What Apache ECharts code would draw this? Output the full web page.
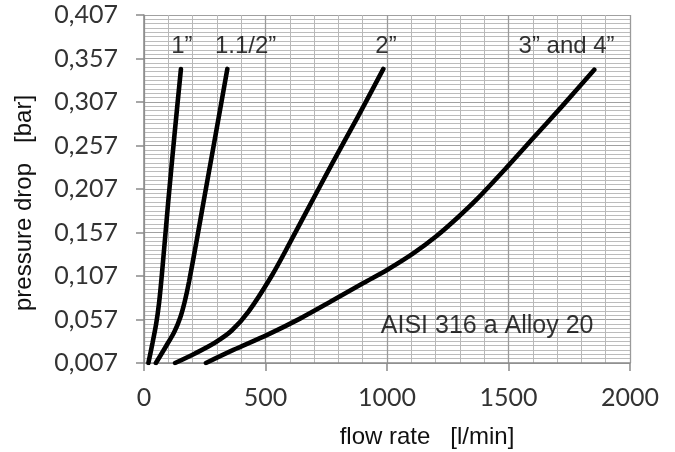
<!DOCTYPE html>
<html>
<head>
<meta charset="utf-8">
<script src="https://cdn.jsdelivr.net/npm/echarts@6/dist/echarts.min.js"></script>
<style>
html,body{margin:0;padding:0;background:#fff;}
#c{width:675px;height:452px;}
</style>
</head>
<body>
<div id="c"></div>
<script>
// flow rate [l/min] and pressure drop [bar] for each size
const flow1 = [18, 35, 50, 62, 74, 99, 125, 152];
const drop1 = [0.007, 0.030, 0.052, 0.076, 0.110, 0.190, 0.268, 0.345];

const flow15 = [49, 90, 125, 150, 168, 185, 215, 250, 290, 343];
const drop15 = [0.007, 0.026, 0.043, 0.060, 0.078, 0.100, 0.145, 0.200, 0.262, 0.345];

const flow2 = [128, 210, 290, 360, 430, 525, 600, 680, 772, 880, 985];
const drop2 = [0.007, 0.018, 0.030, 0.044, 0.066, 0.107, 0.145, 0.187, 0.235, 0.290, 0.345];

const flow34 = [255, 368, 505, 642, 765, 903, 1000, 1108, 1204, 1290, 1369, 1490, 1600, 1720, 1853];
const drop34 = [0.007, 0.022, 0.039, 0.058, 0.077, 0.099, 0.114, 0.133, 0.153, 0.174, 0.195, 0.231, 0.265, 0.302, 0.344];

const curveNames = ['1”', '1.1/2”', '2”', '3” and 4”'];
const labelFlow = [156, 418, 996, 1739];
const labelDrop = [0.371, 0.371, 0.371, 0.371];

const noteText = 'AISI 316 a Alloy 20';
const noteFlow = 1412;
const noteDrop = 0.0495;

const xTitle = 'flow rate   [l/min]';
const yTitle = 'pressure drop   [bar]';

const yMin = 0.007, yMax = 0.407, yStep = 0.05;
const xMin = 0, xMax = 2000, xStep = 500;

function pairs(xs, ys) { return xs.map((x, i) => [x, ys[i]]); }

const curves = [pairs(flow1, drop1), pairs(flow15, drop15), pairs(flow2, drop2), pairs(flow34, drop34)];

const chart = echarts.init(document.getElementById('c'));

const series = curves.map((d, i) => ({
  type: 'line',
  name: curveNames[i],
  data: d,
  smooth: 0.3,
  showSymbol: false,
  lineStyle: { color: '#000', width: 4.6, cap: 'round' },
  z: 5
}));

series.push({
  type: 'scatter',
  symbolSize: 0,
  data: labelFlow.map((x, i) => ({ value: [x, labelDrop[i]], name: curveNames[i] })),
  label: {
    show: true, position: 'inside', formatter: p => p.name,
    color: '#000', fontFamily: 'Liberation Sans, Arial, sans-serif', fontSize: 24
  },
  silent: true, z: 6
});

series.push({
  type: 'scatter',
  symbolSize: 0,
  data: [{ value: [noteFlow, noteDrop], name: noteText }],
  label: {
    show: true, position: 'inside', formatter: p => p.name,
    color: '#000', fontFamily: 'Liberation Sans, Arial, sans-serif', fontSize: 25
  },
  silent: true, z: 6
});

const tickFont = { color: '#333', fontFamily: 'Lato, sans-serif', fontSize: 25 };

chart.setOption({
  backgroundColor: '#fff',
  animation: false,
  grid: { left: 144, top: 15, right: 45, bottom: 89 },
  xAxis: {
    type: 'value', min: xMin, max: xMax, interval: xStep,
    axisLine: { show: true, lineStyle: { color: '#8a8a8a', width: 1.5 } },
    axisTick: { show: true, length: 8, lineStyle: { color: '#8a8a8a', width: 1.5 } },
    axisLabel: Object.assign({ margin: 22, formatter: v => String(v) }, tickFont),
    splitLine: { show: true, lineStyle: { color: '#9a9a9a', width: 1.3 } },
    minorTick: { show: false, splitNumber: 5 },
    minorSplitLine: { show: true, lineStyle: { color: '#b8b8b8', width: 1 } }
  },
  yAxis: {
    type: 'value', min: yMin, max: yMax, interval: yStep,
    axisLine: { show: true, lineStyle: { color: '#8a8a8a', width: 1.5 } },
    axisTick: { show: true, length: 8, lineStyle: { color: '#8a8a8a', width: 1.5 } },
    axisLabel: Object.assign({ margin: 26, formatter: v => v.toFixed(3).replace('.', ',') }, tickFont),
    splitLine: { show: true, lineStyle: { color: '#a0a0a0', width: 1.2 } },
    minorTick: { show: false, splitNumber: 10 },
    minorSplitLine: { show: true, lineStyle: { color: '#bcbcbc', width: 1 } }
  },
  graphic: [
    {
      type: 'text',
      style: { text: xTitle, fill: '#111', font: '24px "Liberation Sans", Arial, sans-serif', textAlign: 'center', textVerticalAlign: 'middle' },
      x: 427, y: 437
    },
    {
      type: 'text',
      style: { text: yTitle, fill: '#111', font: '24px "Liberation Sans", Arial, sans-serif', textAlign: 'center', textVerticalAlign: 'middle' },
      x: 24, y: 203, rotation: Math.PI / 2
    }
  ],
  series: series
});
</script>
</body>
</html>
